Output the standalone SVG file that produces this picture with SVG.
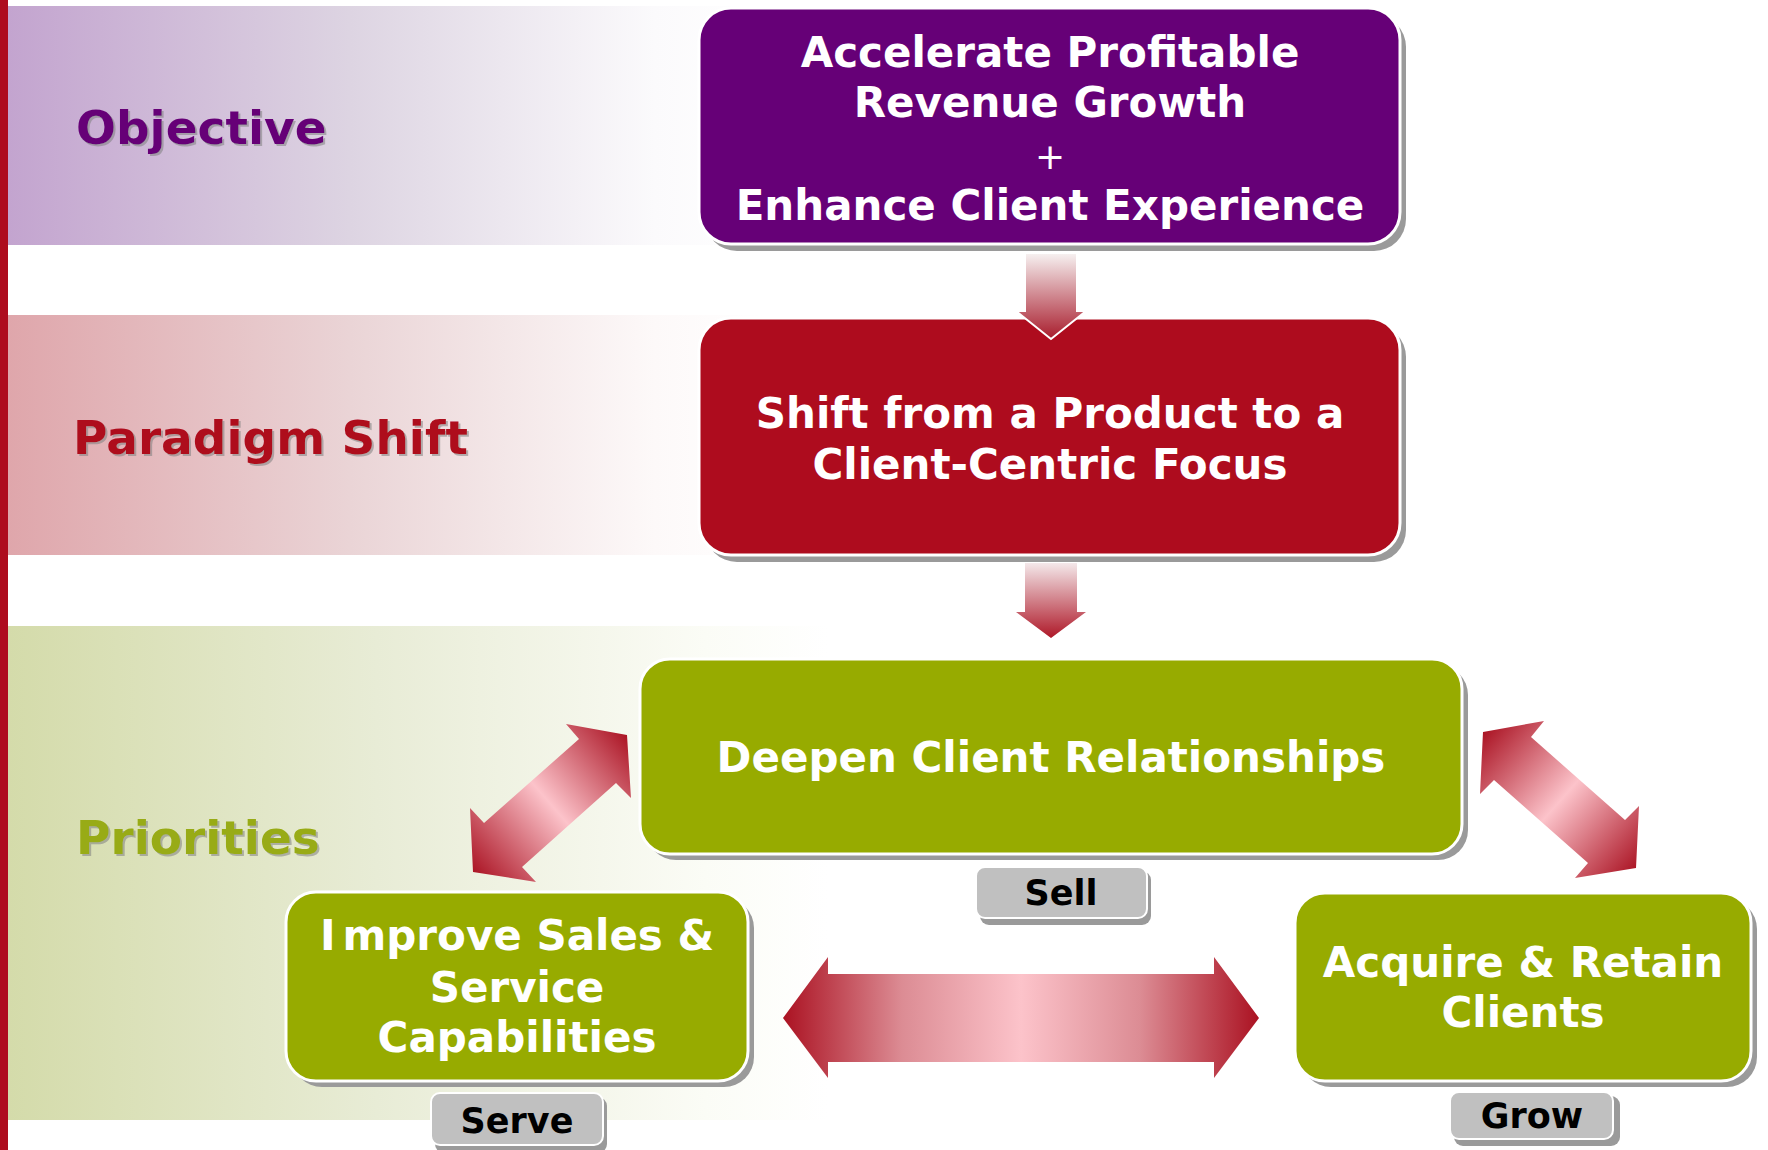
<svg xmlns="http://www.w3.org/2000/svg" width="1768" height="1150" viewBox="0 0 1768 1150">
<style>
.lbl{font-family:"DejaVu Sans",Verdana,sans-serif;font-weight:bold;font-size:47px}
.bx{font-family:"DejaVu Sans",Verdana,sans-serif;font-weight:bold;font-size:42px;fill:#ffffff;text-anchor:middle}
.tag{font-family:"DejaVu Sans",Verdana,sans-serif;font-weight:bold;font-size:35px;fill:#000000;text-anchor:middle}
.shd{fill:#9a9a9a}
.box{stroke:#ffffff;stroke-width:3}
.tagbox{fill:#c0c0c0;stroke:#ffffff;stroke-width:2}
.arr{stroke:#ffffff;stroke-width:2}
</style>
<defs>
<linearGradient id="gObj" x1="0" y1="0" x2="1" y2="0">
<stop offset="0" stop-color="#c3a4cf"/><stop offset="0.45" stop-color="#ddd4e2"/><stop offset="0.85" stop-color="#fbfafc"/><stop offset="1" stop-color="#ffffff"/>
</linearGradient>
<linearGradient id="gPar" x1="0" y1="0" x2="1" y2="0">
<stop offset="0" stop-color="#dfa6ab"/><stop offset="0.45" stop-color="#ead4d6"/><stop offset="0.85" stop-color="#fdf9f9"/><stop offset="1" stop-color="#ffffff"/>
</linearGradient>
<linearGradient id="gPri" x1="0" y1="0" x2="1" y2="0">
<stop offset="0" stop-color="#d4dbaa"/><stop offset="0.45" stop-color="#e8ecd6"/><stop offset="0.85" stop-color="#fbfcf6"/><stop offset="1" stop-color="#ffffff"/>
</linearGradient>
<linearGradient id="gV1" x1="0" y1="0" x2="0" y2="1">
<stop offset="0" stop-color="#f7f2f2"/><stop offset="1" stop-color="#a81c2c"/>
</linearGradient>
<linearGradient id="gV2" x1="0" y1="0" x2="0" y2="1">
<stop offset="0" stop-color="#f4e8ea"/><stop offset="1" stop-color="#ae1828"/>
</linearGradient>
<linearGradient id="gH" gradientUnits="userSpaceOnUse" x1="783" y1="0" x2="1259" y2="0">
<stop offset="0" stop-color="#ab1222"/><stop offset="0.25" stop-color="#dc8c94"/><stop offset="0.5" stop-color="#fcc3ca"/><stop offset="0.75" stop-color="#dc8c94"/><stop offset="1" stop-color="#ab1222"/>
</linearGradient>
<linearGradient id="gDL" gradientUnits="userSpaceOnUse" x1="472" y1="872" x2="629" y2="736">
<stop offset="0" stop-color="#ab1424"/><stop offset="0.5" stop-color="#fcc3ca"/><stop offset="1" stop-color="#ab1424"/>
</linearGradient>
<linearGradient id="gDR" gradientUnits="userSpaceOnUse" x1="1482" y1="733" x2="1637" y2="870">
<stop offset="0" stop-color="#ab1424"/><stop offset="0.5" stop-color="#fcc3ca"/><stop offset="1" stop-color="#ab1424"/>
</linearGradient>
<filter id="ts" x="-5%" y="-20%" width="115%" height="150%">
<feDropShadow dx="2" dy="2" stdDeviation="0.6" flood-color="#808080" flood-opacity="0.55"/>
</filter>
</defs>

<rect x="0" y="0" width="1768" height="1150" fill="#ffffff"/>

<g id="bands">
<rect x="8" y="6" width="760" height="239" fill="url(#gObj)"/>
<rect x="8" y="315" width="760" height="240" fill="url(#gPar)"/>
<rect x="8" y="626" width="820" height="494" fill="url(#gPri)"/>
<rect x="0" y="0" width="8" height="1150" fill="#ae0c1e"/>
</g>

<g id="row-labels">
<text class="lbl" x="76" y="144" fill="#660077" filter="url(#ts)">Objective</text>
<text class="lbl" x="73" y="454" fill="#ae0c1e" filter="url(#ts)">Paradigm Shift</text>
<text class="lbl" x="76" y="854" fill="#98ab12" filter="url(#ts)">Priorities</text>
</g>

<g id="node-objective">
<rect class="shd" x="705" y="15" width="701" height="236" rx="32"/>
<rect class="box" x="699" y="8" width="701" height="236" rx="32" fill="#660077"/>
<text class="bx" x="1050" y="67">Accelerate Profitable</text>
<text class="bx" x="1050" y="117">Revenue Growth</text>
<text class="bx" x="1050" y="169" style="font-weight:normal;font-size:36px">+</text>
<text class="bx" x="1050" y="220">Enhance Client Experience</text>
</g>

<g id="node-paradigm">
<rect class="shd" x="705" y="325" width="701" height="237" rx="32"/>
<rect class="box" x="699" y="318" width="701" height="237" rx="32" fill="#ae0c1e"/>
<text class="bx" x="1050" y="428">Shift from a Product to a</text>
<text class="bx" x="1050" y="479">Client-Centric Focus</text>
</g>

<g id="node-deepen">
<rect class="shd" x="646" y="665" width="822" height="195" rx="30"/>
<rect class="box" x="640" y="659" width="822" height="195" rx="30" fill="#97ab00"/>
<text class="bx" x="1051" y="772">Deepen Client Relationships</text>
</g>

<g id="tag-sell">
<rect class="shd" x="980" y="871" width="171" height="54" rx="9"/>
<rect class="tagbox" x="976" y="867" width="171" height="51" rx="9"/>
<text class="tag" x="1061" y="905">Sell</text>
</g>

<g id="node-improve">
<rect class="shd" x="292" y="898" width="462" height="189" rx="30"/>
<rect class="box" x="286" y="892" width="462" height="189" rx="30" fill="#97ab00"/>
<text class="bx" x="517" y="950"><tspan>I</tspan><tspan dx="7">mprove Sales &amp;</tspan></text>
<text class="bx" x="517" y="1002">Service</text>
<text class="bx" x="517" y="1052">Capabilities</text>
</g>

<g id="tag-serve">
<rect class="shd" x="435" y="1097" width="172" height="56" rx="9"/>
<rect class="tagbox" x="431" y="1093" width="172" height="52" rx="9"/>
<text class="tag" x="517" y="1133">Serve</text>
</g>

<g id="node-acquire">
<rect class="shd" x="1301" y="899" width="456" height="188" rx="30"/>
<rect class="box" x="1295" y="893" width="456" height="188" rx="30" fill="#97ab00"/>
<text class="bx" x="1523" y="977">Acquire &amp; Retain</text>
<text class="bx" x="1523" y="1027">Clients</text>
</g>

<g id="tag-grow">
<rect class="shd" x="1454" y="1096" width="166" height="50" rx="9"/>
<rect class="tagbox" x="1450" y="1092" width="163" height="47" rx="9"/>
<text class="tag" x="1532" y="1128">Grow</text>
</g>

<g id="connectors">
<polygon class="arr" fill="url(#gV1)" points="1025,253 1077,253 1077,311 1086,311 1051,339 1016,311 1025,311"/>
<polygon fill="url(#gV2)" points="1025,563 1077,563 1077,612 1086,612 1051,638 1016,612 1025,612"/>
<polygon fill="url(#gH)" points="783,1018 828,957 828,974 1214,974 1214,957 1259,1018 1214,1078 1214,1062 828,1062 828,1078"/>
<polygon fill="url(#gDL)" points="627,735 631,798 616,783 522,867 536,882 473,872 470,808 484,823 579,739 566,724"/>
<polygon fill="url(#gDR)" points="1483,732 1544,721 1531,737 1625,820 1639,806 1636,868 1575,878 1588,863 1494,780 1480,794"/>
</g>
</svg>
